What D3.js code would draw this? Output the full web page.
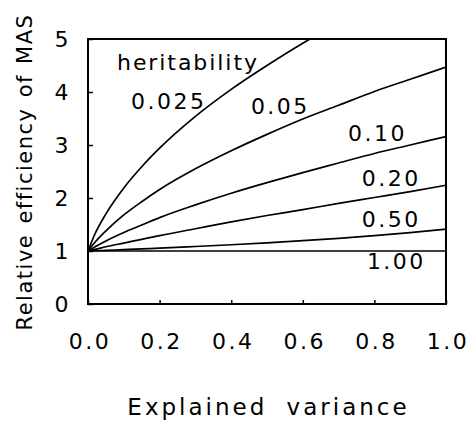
<!DOCTYPE html>
<html>
<head>
<meta charset="utf-8">
<script src="https://cdn.jsdelivr.net/npm/d3@7"></script>
<style>
  body { margin: 0; background: #fff; }
  svg text { font-family: "DejaVu Sans", sans-serif; fill: #000; }
</style>
</head>
<body>
<div id="chart"></div>
<script>
// explained variance (x) and relative efficiency for each heritability
const explained = [0, 0.02, 0.05, 0.1, 0.15, 0.2, 0.3, 0.4, 0.5, 0.6, 0.7, 0.8, 0.9, 1.0];
const h025 = [1.00, 1.33, 1.70, 2.19, 2.59, 2.94, 3.54, 4.05, 4.50, 4.92, 5.30, null, null, null];
const h05  = [1.00, 1.17, 1.38, 1.68, 1.93, 2.16, 2.55, 2.89, 3.20, 3.49, 3.75, 4.01, 4.24, 4.47];
const h10  = [1.00, 1.08, 1.19, 1.35, 1.49, 1.63, 1.87, 2.09, 2.29, 2.48, 2.66, 2.84, 3.00, 3.16];
const h20  = [1.00, 1.03, 1.08, 1.15, 1.22, 1.29, 1.42, 1.55, 1.67, 1.78, 1.90, 2.01, 2.12, 2.24];
const h50  = [1.000, 1.005, 1.013, 1.026, 1.040, 1.054, 1.085, 1.118, 1.155, 1.195, 1.240, 1.291, 1.348, 1.414];
const h100 = [1, 1, 1, 1, 1, 1, 1, 1, 1, 1, 1, 1, 1, 1];
const seriesNames = ["0.025", "0.05", "0.10", "0.20", "0.50", "1.00"];
const seriesValues = [h025, h05, h10, h20, h50, h100];
const xTicks = [0, 0.2, 0.4, 0.6, 0.8, 1.0];
const yTicks = [0, 1, 2, 3, 4, 5];

// where each curve label sits, in data units
const labelAt = [[0.12, 3.68], [0.455, 3.58], [0.726, 3.075], [0.765, 2.23], [0.765, 1.45], [0.779, 0.66]];

const margin = {top: 39, right: 26, bottom: 117, left: 88},
      width = 472 - margin.left - margin.right,
      height = 421 - margin.top - margin.bottom;

const svg = d3.select("#chart")
    .append("svg")
    .attr("width", width + margin.left + margin.right)
    .attr("height", height + margin.top + margin.bottom)
    .append("g")
    .attr("transform", `translate(${margin.left},${margin.top})`);

const x = d3.scaleLinear().domain([0, 1]).range([0, width]);
const y = d3.scaleLinear().domain([0, 5]).range([height, 0]);

svg.append("clipPath").attr("id", "plot-clip")
    .append("rect").attr("width", width).attr("height", height);

// axes with inward ticks
const xAxis = svg.append("g")
    .attr("transform", `translate(0,${height})`)
    .call(d3.axisBottom(x).tickValues(xTicks).tickFormat(d3.format(".1f")).tickSize(-4).tickPadding(29));
const yAxis = svg.append("g")
    .call(d3.axisLeft(y).tickValues(yTicks).tickFormat(d3.format("d")).tickSize(-5).tickPadding(17));

[xAxis, yAxis].forEach(g => {
    g.select(".domain").remove();
    g.selectAll(".tick line").attr("stroke", "#000").attr("stroke-width", 1.5);
    g.selectAll(".tick text").attr("font-size", 22).attr("letter-spacing", 2.5)
        .style("font-family", "'DejaVu Sans', sans-serif");
});
xAxis.selectAll(".tick text").attr("dx", 1.5);

// frame
svg.append("rect")
    .attr("width", width).attr("height", height)
    .attr("fill", "none").attr("stroke", "#000").attr("stroke-width", 2);

const line = d3.line()
    .defined(d => d[1] !== null)
    .x(d => x(d[0]))
    .y(d => y(d[1]))
    .curve(d3.curveMonotoneX);

svg.append("g").attr("clip-path", "url(#plot-clip)")
    .selectAll("path")
    .data(seriesValues)
    .enter().append("path")
    .attr("fill", "none")
    .attr("stroke", "#000")
    .attr("stroke-width", 1.7)
    .attr("d", vals => line(explained.map((p, i) => [p, vals[i]])));

svg.append("text")
    .attr("x", x(0.081)).attr("y", y(4.415))
    .attr("font-size", 22)
    .attr("textLength", 140).attr("lengthAdjust", "spacing")
    .text("heritability");

svg.selectAll(".curve-label")
    .data(seriesNames)
    .enter().append("text")
    .attr("class", "curve-label")
    .attr("x", (d, i) => x(labelAt[i][0]))
    .attr("y", (d, i) => y(labelAt[i][1]))
    .attr("font-size", 22)
    .attr("letter-spacing", 2.5)
    .text(d => d);

svg.append("text")
    .attr("x", width / 2 + 1.5).attr("y", height + 111)
    .attr("text-anchor", "middle")
    .attr("font-size", 23)
    .attr("letter-spacing", 3)
    .attr("word-spacing", 9)
    .text("Explained variance");

svg.append("text")
    .attr("transform", "rotate(-90)")
    .attr("x", -(172 - margin.top)).attr("y", -margin.left + 32)
    .attr("text-anchor", "middle")
    .attr("font-size", 21)
    .attr("letter-spacing", 1.5)
    .attr("word-spacing", 2)
    .text("Relative efficiency of MAS");
</script>
</body>
</html>
